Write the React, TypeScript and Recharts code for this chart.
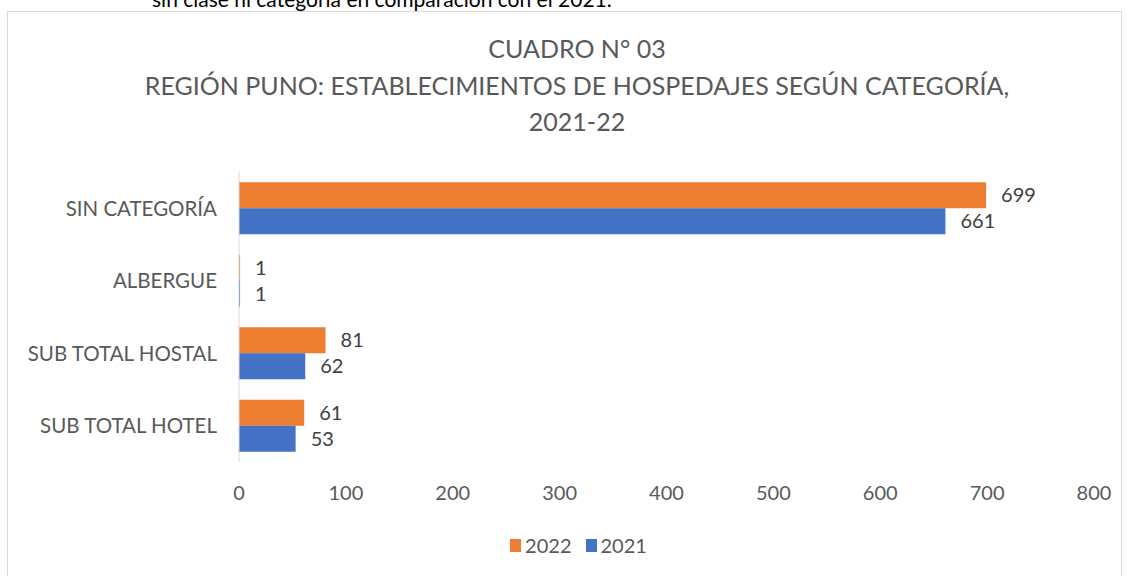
import React from 'react';
import { BarChart, Bar, XAxis, YAxis, LabelList } from 'recharts';

const categories = ['SIN CATEGORÍA', 'ALBERGUE', 'SUB TOTAL HOSTAL', 'SUB TOTAL HOTEL'];
const values2022 = [699, 1, 81, 61];
const values2021 = [661, 1, 62, 53];
const xTicks = [0, 100, 200, 300, 400, 500, 600, 700, 800];

const titleLines = [
  'CUADRO N° 03',
  'REGIÓN PUNO: ESTABLECIMIENTOS DE HOSPEDAJES SEGÚN CATEGORÍA,',
  '2021-22',
];

const series = [
  { key: 'y2022', name: '2022', color: '#ED7D31' },
  { key: 'y2021', name: '2021', color: '#4472C4' },
];

const FONT = 'Lato, "Noto Sans", sans-serif';
const GREY = '#595959';

const data = categories.map((name, i) => ({
  name,
  y2022: values2022[i],
  y2021: values2021[i],
}));

const App: React.FC = () => {
  return (
    <div style={{ position: 'absolute', left: 0, top: 0, width: 1130, height: 576, background: '#fff', overflow: 'hidden', fontFamily: FONT }}>
      {/* page text above the chart, cut off by the screenshot */}
      <div style={{ position: 'absolute', left: 152, top: -14, fontSize: 21, color: '#000', whiteSpace: 'nowrap' }}>
        sin clase ni categoría en comparación con el 2021.
      </div>
      <div style={{ position: 'absolute', left: 7, top: 11, width: 1113, height: 580, border: '1px solid #d9d9d9' }} />
      {titleLines.map((t, i) => (
        <div
          key={i}
          style={{ position: 'absolute', left: 0, width: 1154, top: 33 + i * 36.5, textAlign: 'center', fontSize: 25, color: GREY, lineHeight: '30px', whiteSpace: 'nowrap' }}
        >
          {t}
        </div>
      ))}
      <div style={{ position: 'absolute', left: 0, top: 0 }}>
        <BarChart
          width={1130}
          height={576}
          data={data}
          layout="vertical"
          margin={{ top: 172, right: 36, bottom: 74, left: 0 }}
          barCategoryGap="14%"
          barGap={0}
        >
          <XAxis
            type="number"
            domain={[0, 800]}
            ticks={xTicks}
            axisLine={false}
            tickLine={false}
            height={40}
            tickSize={0}
            tickMargin={24}
            tick={{ fontSize: 20, fill: GREY, fontFamily: FONT }}
          />
          <YAxis
            type="category"
            dataKey="name"
            width={239}
            axisLine={{ stroke: '#d9d9d9' }}
            tickLine={false}
            tickSize={0}
            tickMargin={22}
            tick={{ fontSize: 20.5, fill: GREY, fontFamily: FONT }}
          />
          {series.map((s) => (
            <Bar key={s.key} dataKey={s.key} name={s.name} fill={s.color} isAnimationActive={false}>
              <LabelList dataKey={s.key} position="right" offset={15} style={{ fontSize: 20, fill: '#404040', fontFamily: FONT }} />
            </Bar>
          ))}
        </BarChart>
      </div>
      {/* legend */}
      <div style={{ position: 'absolute', top: 533, left: 0, width: 1157, display: 'flex', justifyContent: 'center', gap: 14, fontSize: 20, color: GREY, lineHeight: '24px' }}>
        {series.map((s) => (
          <div key={s.key} style={{ display: 'flex', alignItems: 'center', gap: 4 }}>
            <span style={{ display: 'inline-block', width: 11, height: 13, background: s.color }} />
            <span>{s.name}</span>
          </div>
        ))}
      </div>
    </div>
  );
};

export default App;
